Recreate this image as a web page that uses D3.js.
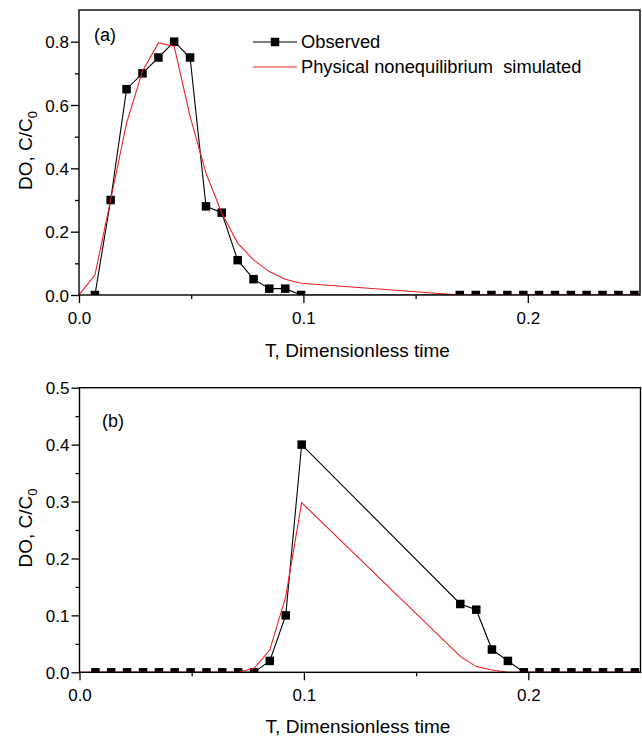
<!DOCTYPE html>
<html><head><meta charset="utf-8">
<script src="https://cdn.jsdelivr.net/npm/d3@7"></script>
<style>
body{margin:0;background:#fff}
svg{display:block}
text{font-family:"Liberation Sans",Arial,Helvetica,sans-serif;fill:#000}
</style>
</head><body>
<svg id="c" width="642" height="737"></svg>
<script>
// ---------- data ----------
// Panel (a)
const obsA_T = [0.0071,0.0141,0.0212,0.0283,0.0354,0.0424,0.0495,0.0566,0.0636,0.0707,0.0778,0.0848,0.0919,0.0990,
                0.1697,0.1768,0.1838,0.1909,0.1980,0.2050,0.2121,0.2192,0.2262,0.2333,0.2404,0.2475];
const obsA_V = [0,0.30,0.65,0.70,0.75,0.80,0.75,0.28,0.26,0.11,0.05,0.02,0.02,0,
                0,0,0,0,0,0,0,0,0,0,0,0];
const simA_T = [0,0.0071,0.0141,0.0212,0.0283,0.0354,0.0424,0.0495,0.0566,0.0636,0.0707,0.0778,0.0848,0.0919,0.0990,0.1697,0.25];
const simA_V = [0,0.063,0.30,0.543,0.707,0.796,0.786,0.564,0.385,0.259,0.164,0.111,0.074,0.050,0.037,0,0];
// Panel (b)
const obsB_T = [0.0071,0.0141,0.0212,0.0283,0.0354,0.0424,0.0495,0.0566,0.0636,0.0707,0.0778,0.0848,0.0919,0.0990,
                0.1697,0.1768,0.1838,0.1909,0.1980,0.2050,0.2121,0.2192,0.2262,0.2333,0.2404,0.2475];
const obsB_V = [0,0,0,0,0,0,0,0,0,0,0,0.02,0.10,0.40,
                0.12,0.11,0.04,0.02,0,0,0,0,0,0,0,0];
const simB_T = [0,0.0707,0.0778,0.0848,0.0919,0.0990,0.1697,0.1768,0.1838,0.1909,0.25];
const simB_V = [0,0,0.007,0.039,0.133,0.298,0.028,0.010,0.004,0,0];

const xMajor = [0,0.1,0.2];
const xMinor = [0.05,0.15];
const yMajorA = [0,0.2,0.4,0.6,0.8];
const yMinorA = [0.1,0.3,0.5,0.7];
const yMajorB = [0,0.1,0.2,0.3,0.4,0.5];
const yMinorB = [0.05,0.15,0.25,0.35,0.45];
const xTitle = "T, Dimensionless time";
const legendLabels = ["Observed","Physical nonequilibrium\u00a0 simulated"];

// ---------- drawing ----------
const svg = d3.select('#c');
const fmt = d3.format('.1f');

function panel(o){
  const x = d3.scaleLinear().domain([0,0.25]).range([o.left,o.right]);
  const y = d3.scaleLinear().domain([0,o.yMax]).range([o.bottom,o.top]);
  const g = svg.append('g');
  const cid = 'clip'+o.id;
  svg.append('clipPath').attr('id',cid).append('rect')
    .attr('x',o.left).attr('y',o.top).attr('width',o.right-o.left).attr('height',o.bottom-o.top);

  const plot = g.append('g').attr('clip-path',`url(#${cid})`);
  const line = d3.line().x(d=>x(d[0])).y(d=>y(d[1]));
  const obs = o.obsT.map((t,i)=>[t,o.obsV[i]]);
  const sim = o.simT.map((t,i)=>[t,o.simV[i]]);
  plot.append('path').datum(obs).attr('d',line).attr('fill','none').attr('stroke','#000').attr('stroke-width',1.1);
  const ms = 8.5;
  plot.selectAll('rect.m').data(obs).enter().append('rect').attr('class','m')
    .attr('x',d=>x(d[0])-ms/2).attr('y',d=>y(d[1])-ms/2).attr('width',ms).attr('height',ms).attr('fill','#000');
  plot.append('path').datum(sim).attr('d',line).attr('fill','none').attr('stroke','#ec1f24').attr('stroke-width',1.1);

  // axes
  const xa = g.append('g').attr('transform',`translate(0,${o.bottom})`)
    .call(d3.axisBottom(x).tickValues(xMajor).tickSize(8).tickSizeOuter(0).tickFormat(fmt));
  xa.select('.domain').remove();
  xa.selectAll('line').attr('stroke-width',1.3);
  xa.selectAll('text').attr('y',0).attr('dy',0).attr('transform','translate(0,29)')
    .style('font-size','17px').style('font-family','"Liberation Sans",Arial,sans-serif');
  const xm = g.append('g').attr('transform',`translate(0,${o.bottom})`)
    .call(d3.axisBottom(x).tickValues(xMinor).tickSize(4).tickSizeOuter(0).tickFormat(''));
  xm.select('.domain').remove();
  xm.selectAll('line').attr('stroke-width',1.3);

  const ya = g.append('g').attr('transform',`translate(${o.left},0)`)
    .call(d3.axisLeft(y).tickValues(o.yMajor).tickSize(8).tickSizeOuter(0).tickFormat(fmt));
  ya.select('.domain').remove();
  ya.selectAll('line').attr('stroke-width',1.3);
  ya.selectAll('text').attr('x',-10).attr('dy','0.36em')
    .style('font-size','17px').style('font-family','"Liberation Sans",Arial,sans-serif');
  const ym = g.append('g').attr('transform',`translate(${o.left},0)`)
    .call(d3.axisLeft(y).tickValues(o.yMinor).tickSize(4).tickSizeOuter(0).tickFormat(''));
  ym.select('.domain').remove();
  ym.selectAll('line').attr('stroke-width',1.3);

  g.append('rect').attr('x',o.left).attr('y',o.top).attr('width',o.right-o.left).attr('height',o.bottom-o.top)
    .attr('fill','none').attr('stroke','#000').attr('stroke-width',1.4);

  // titles
  g.append('text').attr('x',(o.left+o.right)/2 - 2).attr('y',o.xTitleY).attr('text-anchor','middle')
    .style('font-size','19px').text(xTitle);
  const yt = g.append('text').attr('transform',`translate(32,${(o.top+o.bottom)/2 - 2}) rotate(-90)`)
    .attr('text-anchor','middle').style('font-size','19px');
  yt.append('tspan').text('DO, C/C');
  yt.append('tspan').attr('dy',5).style('font-size','13px').text('0');

  g.append('text').attr('x',o.lblX).attr('y',o.lblY).style('font-size','18px').text(o.label);

  if(o.legend){
    const lg = g.append('g');
    lg.append('line').attr('x1',253).attr('x2',297).attr('y1',42).attr('y2',42).attr('stroke','#000').attr('stroke-width',1.1);
    lg.append('rect').attr('x',275-4.25).attr('y',42-4.25).attr('width',8.5).attr('height',8.5).attr('fill','#000');
    lg.append('text').attr('x',301).attr('y',48).style('font-size','18.3px').text(legendLabels[0]);
    lg.append('line').attr('x1',253).attr('x2',297).attr('y1',67).attr('y2',67).attr('stroke','#ec1f24').attr('stroke-width',1.1);
    lg.append('text').attr('x',301).attr('y',73).style('font-size','18.3px').text(legendLabels[1]);
  }
}

panel({id:'a',left:79,right:640,top:10,bottom:295,yMax:0.9,yMajor:yMajorA,yMinor:yMinorA,
  obsT:obsA_T,obsV:obsA_V,simT:simA_T,simV:simA_V,xTitleY:357,label:'(a)',lblX:94,lblY:41,legend:true});
panel({id:'b',left:79.5,right:640.5,top:387.7,bottom:672.3,yMax:0.5,yMajor:yMajorB,yMinor:yMinorB,
  obsT:obsB_T,obsV:obsB_V,simT:simB_T,simV:simB_V,xTitleY:733,label:'(b)',lblX:102,lblY:427,legend:false});
</script>
</body></html>
